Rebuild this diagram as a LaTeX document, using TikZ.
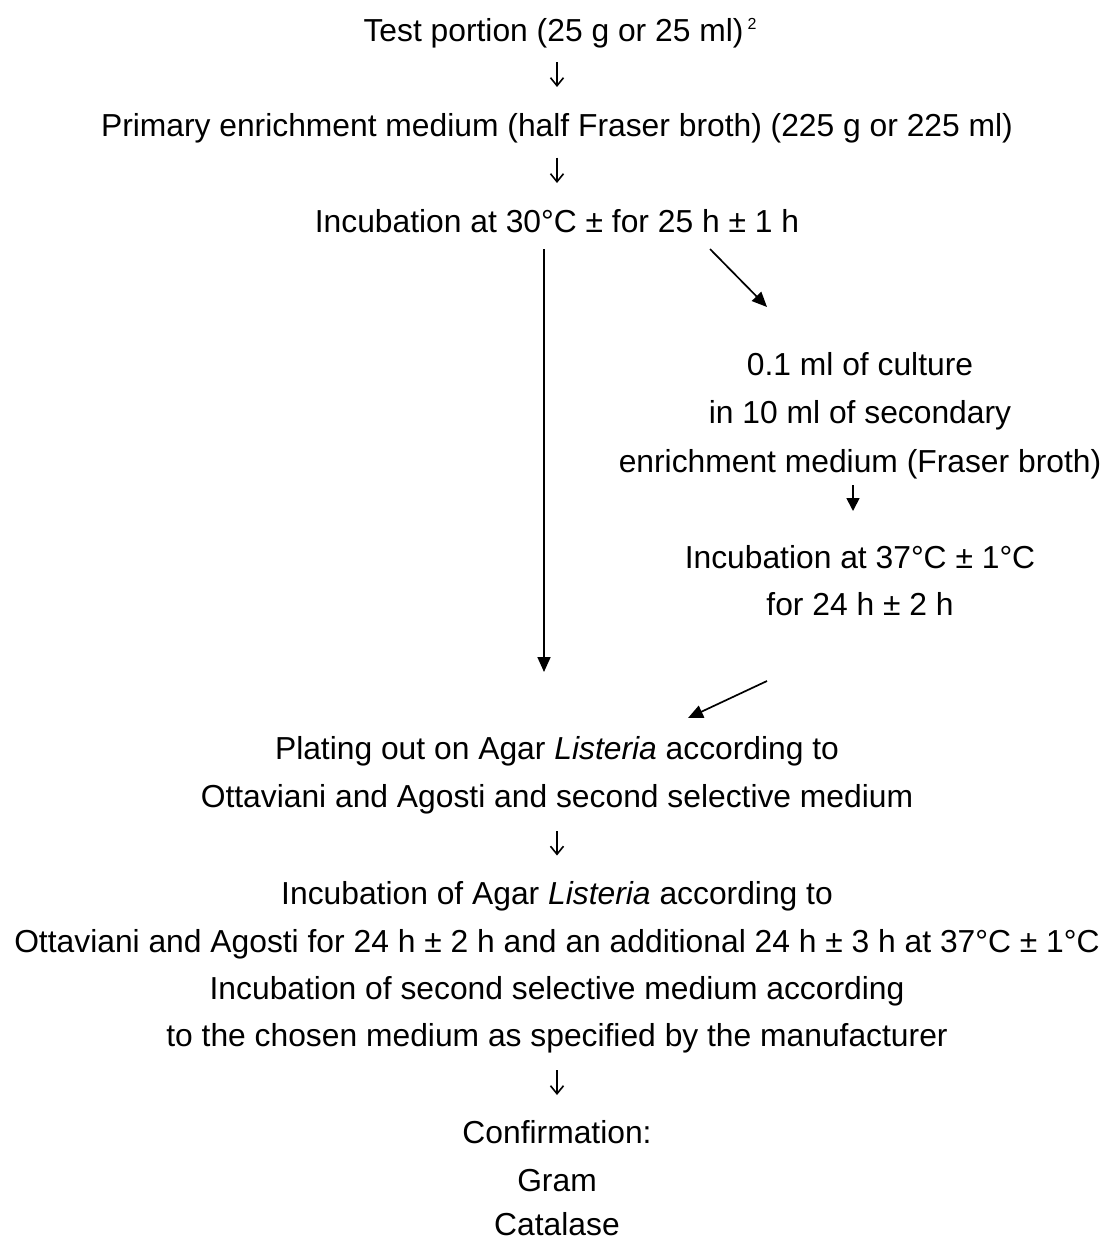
\documentclass[tikz,border=0pt]{standalone}
\usepackage{fontspec}
\setmainfont{Liberation Sans}
\usetikzlibrary{arrows.meta,calc}
\begin{document}
\begin{tikzpicture}[x=1bp,y=-1bp,
  txt/.style={anchor=base,inner sep=0pt,font=\fontsize{31.8bp}{38bp}\selectfont},
  glyph/.style={line width=1.6bp,-{Straight Barb[length=8bp,width=13bp]}},
  arr/.style={line width=1.7bp,-{Triangle[length=15bp,width=13bp]}},
  sarr/.style={line width=1.7bp,-{Triangle[length=13bp,width=13bp]}}]
\useasboundingbox (0,0) rectangle (1107,1241);
% main column
\node[txt] (test) at (560,41) {Test portion (25 g or 25 ml)\hspace{4bp}\raisebox{12bp}{\fontsize{16bp}{16bp}\selectfont 2}};
\node[txt] (prim) at (557,136.5) {Primary enrichment medium (half Fraser broth) (225 g or 225 ml)};
\node[txt] (inc30) at (557,232) {Incubation at 30°C ± for 25 h ± 1 h};
% right column
\node[txt] (cult1) at (860,375) {0.1 ml of culture};
\node[txt] (cult2) at (860,423) {in 10 ml of secondary};
\node[txt] (enr) at (860,472) {enrichment medium (Fraser broth)};
\node[txt] (inc37) at (860,568) {Incubation at 37°C ± 1°C};
\node[txt] (for24) at (860,615) {for 24 h ± 2 h};
% lower column
\node[txt] (plate1) at (557,759) {Plating out on Agar \textit{Listeria} according to};
\node[txt] (plate2) at (557,807) {Ottaviani and Agosti and second selective medium};
\node[txt] (incag1) at (557,904) {Incubation of Agar \textit{Listeria} according to};
\node[txt] (incag2) at (557,952) {Ottaviani and Agosti for 24 h ± 2 h and an additional 24 h ± 3 h at 37°C ± 1°C};
\node[txt] (incsec1) at (557,999) {Incubation of second selective medium according};
\node[txt] (incsec2) at (557,1046) {to the chosen medium as specified by the manufacturer};
\node[txt] (conf) at (557,1143) {Confirmation:};
\node[txt] (gram) at (557,1191) {Gram};
\node[txt] (cat) at (557,1235) {Catalase};
% connectors
\draw[glyph,shorten <=21bp,shorten >=49.5bp] ($(test.base)+(-3,0)$) -- (prim.base);
\draw[glyph,shorten <=21bp,shorten >=49bp] (prim.base) -- (inc30.base);
\draw[arr] ($(inc30.base)+(-13,17)$) -- ($(plate1.base)+(-13,-87)$);
\draw[arr] ($(inc30.base)+(153,17)$) -- ($(cult1.base)+(-93,-68)$);
\draw[sarr] ($(enr.base)+(-7,13)$) -- ($(inc37.base)+(-7,-57)$);
\draw[arr] ($(for24.base)+(-93,66)$) -- ($(plate1.base)+(131,-41)$);
\draw[glyph,shorten <=24bp,shorten >=48.5bp] (plate2.base) -- (incag1.base);
\draw[glyph,shorten <=24bp,shorten >=48bp] (incsec2.base) -- (conf.base);
\end{tikzpicture}
\end{document}
